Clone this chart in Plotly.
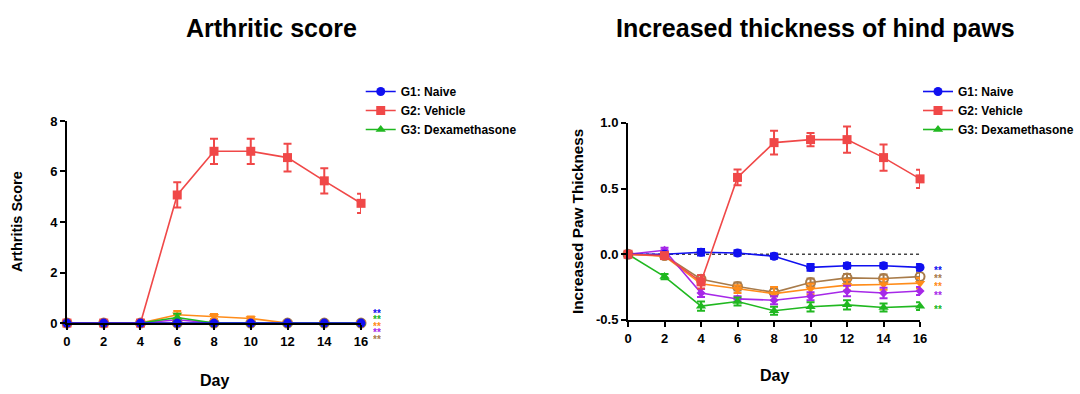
import plotly.graph_objects as go

days = [0, 2, 4, 6, 8, 10, 12, 14, 16]

# Arthritis score
as_g1 = [0, 0, 0, 0, 0, 0, 0, 0, 0]
as_g1_err = [0, 0, 0, 0, 0, 0, 0, 0, 0]
as_g2 = [0, 0, 0, 5.07, 6.8, 6.8, 6.55, 5.63, 4.74]
as_g2_err = [0, 0, 0, 0.5, 0.5, 0.5, 0.55, 0.5, 0.38]
as_g3 = [0, 0, 0, 0.22, 0, 0, 0, 0, 0]
as_g3_err = [0, 0, 0, 0.15, 0, 0, 0, 0, 0]
as_g4 = [0, 0, 0, 0.33, 0.26, 0.18, 0, 0, 0]
as_g4_err = [0, 0, 0, 0.15, 0.1, 0.08, 0, 0, 0]
as_g5 = [0, 0, 0, 0.13, 0, 0, 0, 0, 0]
as_g5_err = [0, 0, 0, 0.05, 0, 0, 0, 0, 0]
as_g6 = [0, 0, 0, 0, 0, 0, 0, 0, 0]
as_g6_err = [0, 0, 0, 0, 0, 0, 0, 0, 0]

# Increased paw thickness
pt_g1 = [0, 0, 0.015, 0.01, -0.015, -0.10, -0.087, -0.087, -0.10]
pt_g1_err = [0.01, 0.01, 0.025, 0.02, 0.02, 0.025, 0.02, 0.02, 0.025]
pt_g2 = [0, -0.01, -0.21, 0.585, 0.85, 0.873, 0.873, 0.736, 0.574]
pt_g2_err = [0.01, 0.01, 0.05, 0.06, 0.09, 0.05, 0.1, 0.1, 0.07]
pt_g3 = [0, -0.17, -0.395, -0.36, -0.43, -0.40, -0.385, -0.405, -0.395]
pt_g3_err = [0.01, 0.02, 0.035, 0.03, 0.03, 0.035, 0.035, 0.03, 0.03]
pt_g4 = [0, -0.015, -0.225, -0.265, -0.30, -0.265, -0.235, -0.23, -0.22]
pt_g4_err = [0.01, 0.01, 0.04, 0.03, 0.05, 0.04, 0.04, 0.04, 0.04]
pt_g5 = [0, 0.03, -0.295, -0.34, -0.35, -0.32, -0.28, -0.295, -0.28]
pt_g5_err = [0.01, 0.02, 0.03, 0.02, 0.03, 0.03, 0.04, 0.04, 0.03]
pt_g6 = [0, -0.01, -0.19, -0.245, -0.29, -0.215, -0.18, -0.185, -0.17]
pt_g6_err = [0.01, 0.01, 0.03, 0.03, 0.03, 0.03, 0.03, 0.03, 0.03]

group_names = ["G1: Naive", "G2: Vehicle", "G3: Dexamethasone", "G4", "G5", "G6"]
colors = ["#1010F0", "#F04848", "#20B820", "#FF8C1A", "#A628E8", "#A87B4A"]
symbols = ["circle", "square", "triangle-up", "triangle-down", "diamond", "circle-open"]
show_leg = [True, True, True, False, False, False]

left_series = [(as_g1, as_g1_err), (as_g2, as_g2_err), (as_g3, as_g3_err),
               (as_g4, as_g4_err), (as_g5, as_g5_err), (as_g6, as_g6_err)]
right_series = [(pt_g1, pt_g1_err), (pt_g2, pt_g2_err), (pt_g3, pt_g3_err),
                (pt_g4, pt_g4_err), (pt_g5, pt_g5_err), (pt_g6, pt_g6_err)]

# draw order (blue on top in left chart)
left_order = [5, 4, 3, 2, 1, 0]
right_order = [5, 3, 4, 2, 0, 1]

star_left_colors = ["#1010F0", "#20B820", "#FF8C1A", "#A628E8", "#A87B4A"]
star_right_colors = ["#1010F0", "#A87B4A", "#FF8C1A", "#A628E8", "#20B820"]

fig = go.Figure()

# dotted zero line in right chart
fig.add_trace(go.Scatter(x=[days[0], days[-1]], y=[0, 0], mode="lines", xaxis="x2", yaxis="y2",
                         line=dict(color="#444", width=1.5, dash="dot"), showlegend=False,
                         hoverinfo="skip"))


def add(series, order, xa, ya, legend):
    for i in order:
        y, e = series[i]
        fig.add_trace(go.Scatter(
            x=days, y=y, mode="lines+markers", name=group_names[i],
            xaxis=xa, yaxis=ya, legend=legend, legendrank=i + 1,
            showlegend=show_leg[i],
            line=dict(color=colors[i], width=1.6),
            marker=dict(symbol=symbols[i], size=9 if i != 4 else 7, color=colors[i],
                        line=dict(color=colors[i], width=2 if i == 5 else 0)),
            error_y=dict(type="data", array=e, visible=True, color=colors[i], thickness=2, width=4),
            cliponaxis=False,
        ))


add(left_series, left_order, "x", "y", "legend")
add(right_series, right_order, "x2", "y2", "legend2")

FONT = "Liberation Sans, Arial, sans-serif"
tickfont = dict(family=FONT, size=13, color="black", weight="bold")
axis_common = dict(showline=True, linecolor="black", linewidth=2, ticks="outside",
                   tickcolor="black", tickwidth=2, ticklen=5, showgrid=False, zeroline=False,
                   tickfont=tickfont, automargin=False)
legfont = dict(family=FONT, size=12, color="black", weight="bold")

fig.update_layout(
    width=1080, height=394,
    margin=dict(l=0, r=0, t=0, b=0, autoexpand=False),
    paper_bgcolor="white", plot_bgcolor="white",
    xaxis=dict(domain=[0.062, 0.3343], range=[0, 16], tickvals=days, anchor="y", **axis_common),
    yaxis=dict(domain=[0.180, 0.693], range=[0, 8], tickvals=[0, 2, 4, 6, 8], anchor="x", **axis_common),
    xaxis2=dict(domain=[0.5815, 0.8519], range=[0, 16], tickvals=days, anchor="y2", **axis_common),
    yaxis2=dict(domain=[0.188, 0.688], range=[-0.5, 1.0], tickvals=[-0.5, 0, 0.5, 1.0],
                ticktext=["-0.5", "0.0", "0.5", "1.0"], anchor="x2", **axis_common),
    legend=dict(x=0.334, y=1 - 77 / 394, xanchor="left", yanchor="top", bgcolor="rgba(0,0,0,0)",
                font=legfont, itemwidth=30, traceorder="normal"),
    legend2=dict(x=0.850, y=1 - 77 / 394, xanchor="left", yanchor="top", bgcolor="rgba(0,0,0,0)",
                 font=legfont, itemwidth=30, traceorder="normal"),
    showlegend=True,
)

annotations = []
for text, x, y in [("Arthritic score", 271, 28), ("Increased thickness of hind paws", 815, 28)]:
    annotations.append(dict(text=text, x=x / 1080, y=1 - y / 394, xref="paper", yref="paper",
                            showarrow=False, xanchor="center", yanchor="middle",
                            font=dict(family=FONT, size=25, color="black", weight="bold")))
# axis titles
for x, y in [(214, 380), (774, 375)]:
    annotations.append(dict(text="Day", x=x / 1080, y=1 - y / 394, xref="paper", yref="paper", showarrow=False,
                            xanchor="center", yanchor="middle",
                            font=dict(family=FONT, size=16, color="black", weight="bold")))
for text, x, fs in [("Arthritis Score", 17, 14.5), ("Increased Paw Thickness", 577, 15.3)]:
    annotations.append(dict(text=text, x=x / 1080, y=1 - 222 / 394, xref="paper", yref="paper",
                            showarrow=False, textangle=-90, xanchor="center", yanchor="middle",
                            font=dict(family=FONT, size=fs, color="black", weight="bold")))
# significance stars
left_star_y = [310.5, 317, 323.5, 330, 336.5]
right_star_y = [267.7, 275.7, 284.3, 292.7, 306.7]
for xs, cols, ys in [(377, star_left_colors, left_star_y), (938, star_right_colors, right_star_y)]:
    for c, yy in zip(cols, ys):
        annotations.append(dict(text="**", x=xs / 1080, y=1 - yy / 394, xref="paper", yref="paper",
                                showarrow=False, xanchor="center", yanchor="middle", valign="top",
                                height=6, borderpad=0,
                                font=dict(family=FONT, size=10, color=c, weight="bold")))
fig.update_layout(annotations=annotations)

fig.write_html("out.html", config={"displayModeBar": False},
               post_script="document.body.style.margin='0';document.body.style.overflow='hidden';")
